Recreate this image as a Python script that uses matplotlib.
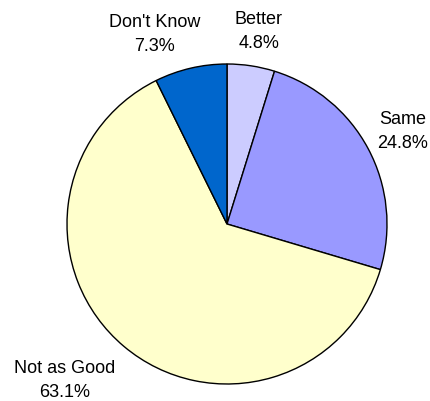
import matplotlib.pyplot as plt

labels = ["Better", "Same", "Not as Good", "Don't Know"]
values = [4.8, 24.8, 63.1, 7.3]
colors = ["#ccccff", "#9999ff", "#ffffcc", "#0066cc"]

# label anchor (x centre, baseline of last line) in pixels from top-left
label_pos = [(259, 48), (403, 148), (65, 397), (155, 51)]

plt.rcParams["font.family"] = ["Liberation Sans", "DejaVu Sans"]

W, H = 431, 401
fig = plt.figure(figsize=(W / 100, H / 100), dpi=100)
ax = fig.add_axes([0, 0, 1, 1])

ax.pie(values, colors=colors, startangle=90, counterclock=False,
       center=(227, H - 224), radius=160,
       wedgeprops=dict(edgecolor="black", linewidth=1.0))
ax.set_xlim(0, W)
ax.set_ylim(0, H)
ax.set_aspect("equal")
ax.axis("off")

for lab, v, (x, y) in zip(labels, values, label_pos):
    ax.text(x, H - y, f"{lab}\n{v:.1f}%", ha="center", va="baseline",
            fontsize=13, linespacing=1.55, color="black")

fig.savefig("out.png", dpi=100)
